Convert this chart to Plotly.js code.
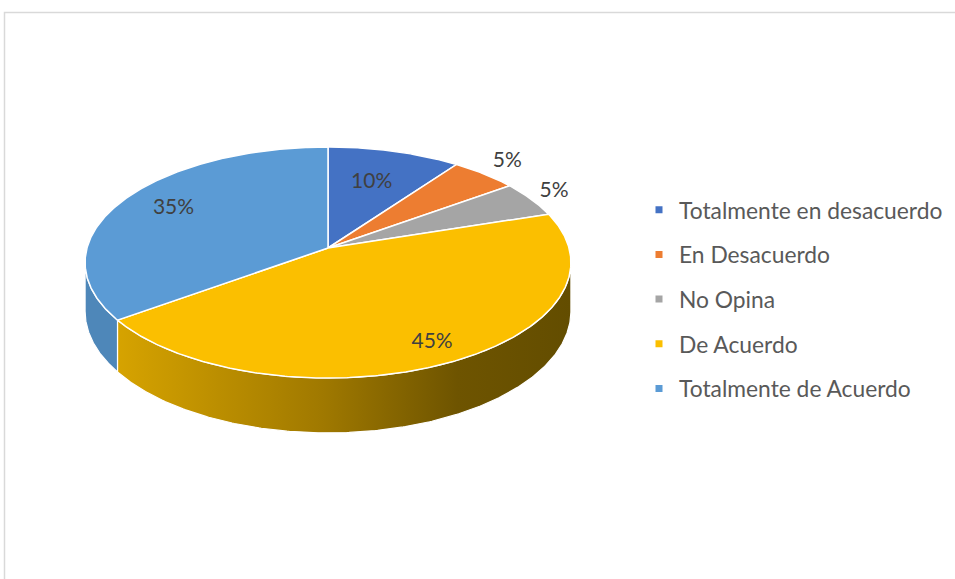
<!DOCTYPE html>
<html><head><meta charset="utf-8">
<script src="https://cdn.plot.ly/plotly-3.0.1.min.js"></script>
<style>html,body{margin:0;padding:0;background:#fff}#chart{width:955px;height:579px}</style>
</head><body><div id="chart"></div>
<script>
// ---- data ----
const categories = ['Totalmente en desacuerdo','En Desacuerdo','No Opina','De Acuerdo','Totalmente de Acuerdo'];
const values = [10, 5, 5, 45, 35];
const percentLabels = ['10%','5%','5%','45%','35%'];

// ---- styles ----
const topColors = ['#4472C4','#ED7D31','#A5A5A5','#FBBF00','#5B9BD5'];
const sideStyles = [
  {color:'#375E9F'},
  {color:'#BF6427'},
  {color:'#858585'},
  {gradient:[[0,'#D6A300'],[0.45,'#A07900'],[0.75,'#6E5400'],[1,'#634D00']]},
  {color:'#4E87B9'}
];
const labelRadius = [0.63, 1.16, 1.12, 0.86, 0.75];
const FONT = 'Lato, "Open Sans", sans-serif';

// ---- geometry (pie drawn with perspective) ----
const CX = 328, CY = 248, R = 241, K = 113.7, P = 0.1255, H = 48;
function proj(phiDeg, f, drop) {
  const a = phiDeg * Math.PI / 180;
  const u = f * Math.sin(a), v = f * Math.cos(a);
  const s = 1 / (1 + P * v);
  return [CX + R * u * s, CY - K * v * s + (drop ? H * s : 0)];
}
const total = values.reduce((a, b) => a + b, 0);
const starts = [], ends = [];
let acc = 0;
values.forEach(v => { starts.push(acc / total * 360); acc += v; ends.push(acc / total * 360); });

const frontL = 90 + Math.asin(P) * 180 / Math.PI;
const frontR = 270 - Math.asin(P) * 180 / Math.PI;

function arc(a, b, drop) {
  const pts = [];
  const n = Math.max(2, Math.ceil(Math.abs(b - a) / 0.5));
  for (let i = 0; i <= n; i++) pts.push(proj(a + (b - a) * i / n, 1, drop));
  return pts;
}

const traces = [];
// side walls
values.forEach((v, i) => {
  const a = Math.max(starts[i], frontL), b = Math.min(ends[i], frontR);
  if (a >= b) return;
  const pts = arc(a, b, false).concat(arc(b, a, true));
  pts.push(pts[0]);
  const t = {
    type: 'scatter', mode: 'lines', x: pts.map(p => p[0]), y: pts.map(p => p[1]),
    fill: 'toself', line: {color: '#FFFFFF', width: 1.2}, showlegend: false, hoverinfo: 'skip'
  };
  if (sideStyles[i].gradient) {
    t.fillgradient = {type: 'horizontal', colorscale: sideStyles[i].gradient};
  } else {
    t.fillcolor = sideStyles[i].color;
  }
  traces.push(t);
});
// top faces
values.forEach((v, i) => {
  const pts = [[CX, CY]].concat(arc(starts[i], ends[i], false));
  pts.push([CX, CY]);
  traces.push({
    type: 'scatter', mode: 'lines', x: pts.map(p => p[0]), y: pts.map(p => p[1]),
    fill: 'toself', fillcolor: topColors[i], line: {color: '#FFFFFF', width: 1.5},
    showlegend: false, hoverinfo: 'skip'
  });
});
// data labels
const lx = [], ly = [];
values.forEach((v, i) => {
  const p = proj((starts[i] + ends[i]) / 2, labelRadius[i], false);
  lx.push(p[0]); ly.push(p[1] - 2);
});
traces.push({
  type: 'scatter', mode: 'text', x: lx, y: ly, text: percentLabels,
  textposition: 'middle center', textfont: {family: FONT, size: 21, color: '#404040'},
  showlegend: false, hoverinfo: 'skip'
});
// legend entries
categories.forEach((c, i) => {
  traces.push({
    type: 'scatter', mode: 'markers', x: [null], y: [null], name: c, legendgroup: 'g' + i,
    marker: {symbol: 'square', size: 7, color: topColors[i]}, hoverinfo: 'skip'
  });
});

const layout = {
  width: 955, height: 579,
  margin: {l: 0, r: 0, t: 0, b: 0},
  paper_bgcolor: '#FFFFFF', plot_bgcolor: 'rgba(0,0,0,0)',
  xaxis: {range: [0, 955], visible: false, fixedrange: true},
  yaxis: {range: [579, 0], visible: false, fixedrange: true},
  showlegend: true,
  legend: {
    x: 639 / 955, xanchor: 'left', y: 1 - 188.5 / 579, yanchor: 'top',
    font: {family: FONT, size: 22.8, color: '#595959'},
    traceorder: 'grouped', tracegroupgap: 12, bgcolor: 'rgba(0,0,0,0)'
  },
  shapes: [{
    type: 'rect', xref: 'paper', yref: 'paper',
    x0: 4.5 / 955, x1: 1.02, y0: 1 - 12.5 / 579, y1: -0.02,
    line: {color: '#D9D9D9', width: 1.5}, fillcolor: 'rgba(0,0,0,0)', layer: 'below'
  }]
};
Plotly.newPlot('chart', traces, layout, {staticPlot: true, displayModeBar: false});
</script>
</body></html>
